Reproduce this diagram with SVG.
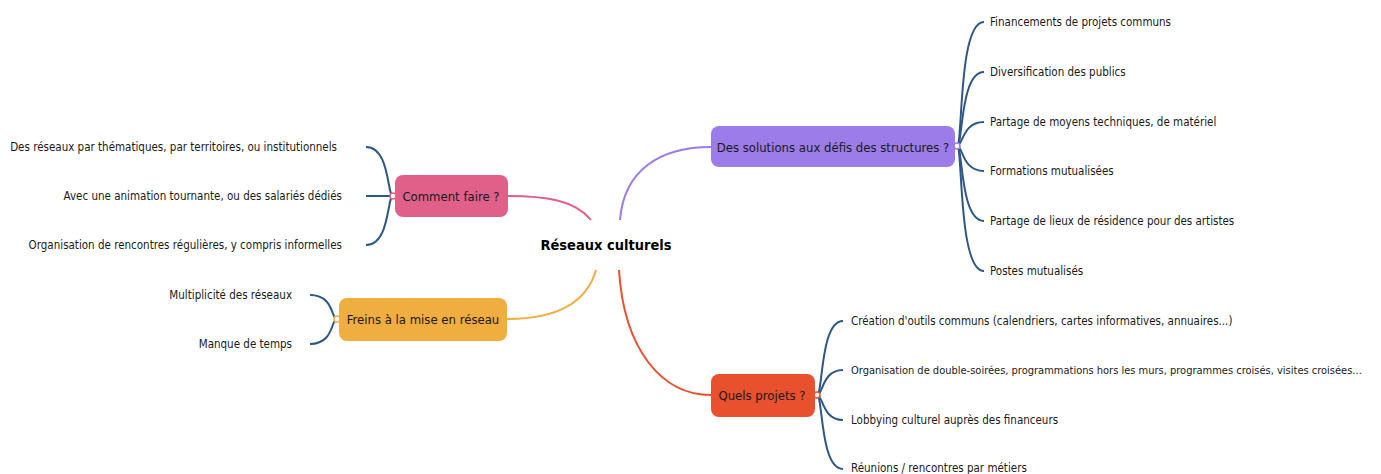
<svg xmlns="http://www.w3.org/2000/svg" width="1381" height="474" viewBox="0 0 1381 474">
<style>
text{font-family:"DejaVu Sans Condensed","DejaVu Sans",sans-serif;fill:#1a1a1a}
.leaf{font-size:11.5px}
.topic{font-size:13px}
.root{font-size:14.5px;font-weight:bold;fill:#000}
.sub{fill:none;stroke:#2e5785;stroke-width:2}
.main{fill:none;stroke-width:2}
.dot{fill:#fff;stroke-width:1.5}
</style>
<rect width="1381" height="474" fill="#fff"/>
<g id="connectors">
<path class="main" stroke="#9b7ce8" d="M620,220 C624,170 660,147 711,147"/>
<path class="main" stroke="#e0608a" d="M591,220 C575,200 545,196 508,196"/>
<path class="main" stroke="#f0ad40" d="M596,270 C586,305 552,319 507,319"/>
<path class="main" stroke="#e8502e" d="M619,270 C624,350 662,395 711,395"/>
<g>
<path class="sub" d="M957,146 C963,146 958,22 984,22"/>
<path class="sub" d="M957,146 C963,146 960,72 984,72"/>
<path class="sub" d="M957,146 C963,146 962,122 984,122"/>
<path class="sub" d="M957,146 C963,146 962,171 984,171"/>
<path class="sub" d="M957,146 C963,146 960,221 984,221"/>
<path class="sub" d="M957,146 C963,146 958,271 984,271"/>
<path class="sub" d="M817,395 C823,395 820,321 843,321"/>
<path class="sub" d="M817,395 C823,395 822,370 843,370"/>
<path class="sub" d="M817,395 C823,395 822,420 843,420"/>
<path class="sub" d="M817,395 C823,395 820,469 843,469"/>
<path class="sub" d="M393,196 C387,196 390,147 366,147"/>
<path class="sub" d="M393,196 L366,196"/>
<path class="sub" d="M393,196 C387,196 390,245 366,245"/>
<path class="sub" d="M337,319 C331,319 334,295 310,295"/>
<path class="sub" d="M337,319 C331,319 334,344 310,344"/>
</g>
</g>
<g id="root"><text class="root" x="606" y="250" text-anchor="middle">Réseaux culturels</text></g>
<g id="solutions">
<rect x="711" y="126" width="244" height="41" rx="8" fill="#9b7ce8"/>
<text class="topic" x="833" y="152" text-anchor="middle">Des solutions aux défis des structures ?</text>
<circle class="dot" cx="957" cy="146" r="3" stroke="#9b7ce8"/>
</g>
<g id="comment">
<rect x="395" y="175" width="113" height="42" rx="8" fill="#e0608a"/>
<text class="topic" x="451" y="201" text-anchor="middle">Comment faire ?</text>
<circle class="dot" cx="393" cy="196" r="3" stroke="#e0608a"/>
</g>
<g id="freins">
<rect x="339" y="298" width="168" height="43" rx="8" fill="#f0ad40"/>
<text class="topic" x="423" y="324" text-anchor="middle">Freins à la mise en réseau</text>
<circle class="dot" cx="337" cy="319" r="3" stroke="#f0ad40"/>
</g>
<g id="projets">
<rect x="711" y="374" width="104" height="43" rx="8" fill="#e8502e"/>
<text class="topic" x="762" y="400" text-anchor="middle">Quels projets ?</text>
<circle class="dot" cx="817" cy="395" r="3" stroke="#e8502e"/>
</g>
<g id="leaf-s1"><text class="leaf" x="990" y="26">Financements de projets communs</text></g>
<g id="leaf-s2"><text class="leaf" x="990" y="76">Diversification des publics</text></g>
<g id="leaf-s3"><text class="leaf" x="990" y="126">Partage de moyens techniques, de matériel</text></g>
<g id="leaf-s4"><text class="leaf" x="990" y="175">Formations mutualisées</text></g>
<g id="leaf-s5"><text class="leaf" x="990" y="225">Partage de lieux de résidence pour des artistes</text></g>
<g id="leaf-s6"><text class="leaf" x="990" y="275">Postes mutualisés</text></g>
<g id="leaf-p1"><text class="leaf" x="851" y="325">Création d'outils communs (calendriers, cartes informatives, annuaires...)</text></g>
<g id="leaf-p2"><text class="leaf" x="851" y="374" style="font-size:11px">Organisation de double-soirées, programmations hors les murs, programmes croisés, visites croisées...</text></g>
<g id="leaf-p3"><text class="leaf" x="851" y="424">Lobbying culturel auprès des financeurs</text></g>
<g id="leaf-p4"><text class="leaf" x="851" y="472">Réunions / rencontres par métiers</text></g>
<g id="leaf-c1"><text class="leaf" x="337" y="151" text-anchor="end">Des réseaux par thématiques, par territoires, ou institutionnels</text></g>
<g id="leaf-c2"><text class="leaf" x="342" y="200" text-anchor="end">Avec une animation tournante, ou des salariés dédiés</text></g>
<g id="leaf-c3"><text class="leaf" x="342" y="249" text-anchor="end">Organisation de rencontres régulières, y compris informelles</text></g>
<g id="leaf-f1"><text class="leaf" x="292" y="299" text-anchor="end">Multiplicité des réseaux</text></g>
<g id="leaf-f2"><text class="leaf" x="292" y="348" text-anchor="end">Manque de temps</text></g>
</svg>
